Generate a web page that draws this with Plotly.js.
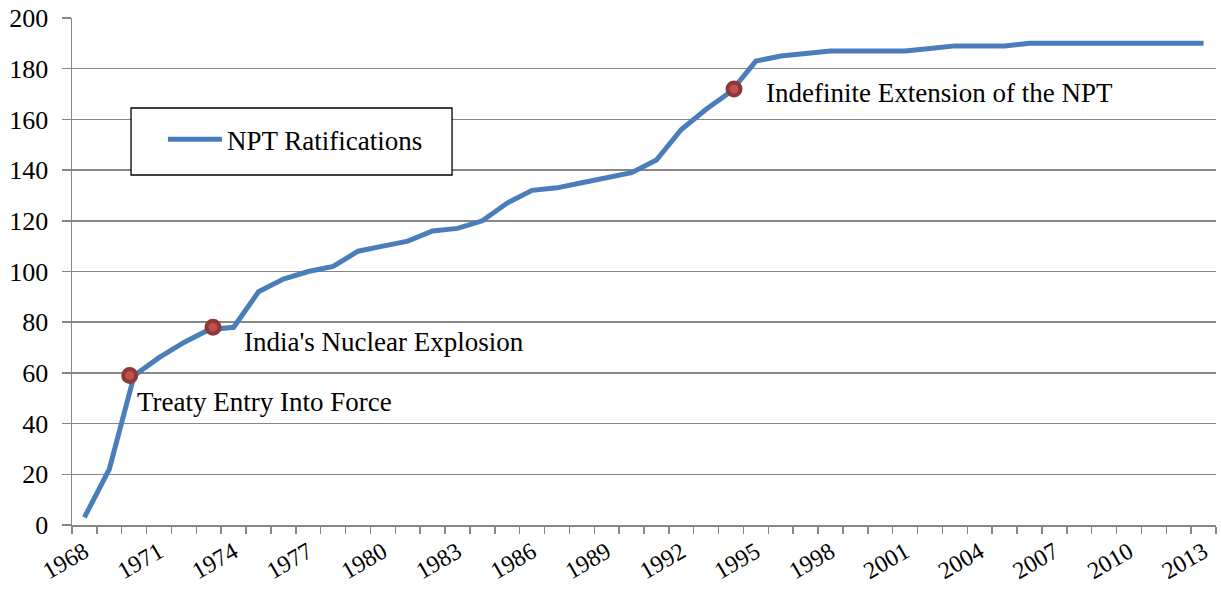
<!DOCTYPE html>
<html>
<head>
<meta charset="utf-8">
<script src="https://cdn.plot.ly/plotly-3.0.1.min.js"></script>
<style>html,body{margin:0;padding:0;background:#fff;}#chart{width:1221px;height:589px;}</style>
</head>
<body>
<div id="chart"></div>
<script>
// ---- data ----
const years = [1968,1969,1970,1971,1972,1973,1974,1975,1976,1977,1978,1979,1980,1981,1982,1983,1984,1985,1986,1987,1988,1989,1990,1991,1992,1993,1994,1995,1996,1997,1998,1999,2000,2001,2002,2003,2004,2005,2006,2007,2008,2009,2010,2011,2012,2013];
const ratifications = [3,22,59,66,72,77,78,92,97,100,102,108,110,112,116,117,120,127,132,133,135,137,139,144,156,164,171,183,185,186,187,187,187,187,188,189,189,189,190,190,190,190,190,190,190,190];
const eventYears = [1969.82, 1973.17, 1994.12];
const eventValues = [59, 78, 172];
const eventLabels = ["Treaty Entry Into Force", "India's Nuclear Explosion", "Indefinite Extension of the NPT"];
const labelShiftX = [5, 29, 30];
const labelShiftY = [-27, -15, -4];
const tickYears = [1968,1971,1974,1977,1980,1983,1986,1989,1992,1995,1998,2001,2004,2007,2010,2013];

const FONT = "Liberation Serif, Times New Roman, serif";
const GRAY = "#878787";

const traces = [
  {
    type: 'scatter', mode: 'lines', name: 'NPT Ratifications',
    x: years, y: ratifications,
    line: {color: '#4A7EBB', width: 5}
  },
  {
    type: 'scatter', mode: 'markers', showlegend: false,
    x: eventYears, y: eventValues,
    marker: {size: 13, color: '#C0504D', line: {color: '#8C3836', width: 4}}
  }
];

const annotations = eventLabels.map((t, i) => ({
  x: eventYears[i], y: eventValues[i], xref: 'x', yref: 'y',
  text: t, showarrow: false, xanchor: 'left', yanchor: 'middle',
  xshift: labelShiftX[i], yshift: labelShiftY[i],
  font: {family: FONT, size: 27, color: '#000'}
}));

const layout = {
  width: 1221, height: 589,
  margin: {l: 72, r: 5, t: 18, b: 64},
  paper_bgcolor: '#fff', plot_bgcolor: '#fff',
  font: {family: FONT, size: 26, color: '#000'},
  showlegend: true,
  legend: {
    x: 0.0795, y: 0.76, xanchor: 'left', yanchor: 'middle',
    bgcolor: 'rgba(0,0,0,0)', borderwidth: 0,
    font: {family: FONT, size: 27, color: '#000'},
    itemwidth: 54
  },
  shapes: [{
    type: 'rect', xref: 'paper', yref: 'paper',
    x0: 0.0516, x1: 0.3322, y0: 0.6903, y1: 0.8225,
    fillcolor: '#fff', line: {color: '#000', width: 1.3}, layer: 'above'
  }],
  xaxis: {
    type: 'linear', range: [1967.5, 2013.5],
    tickmode: 'array', tickvals: tickYears, ticktext: tickYears.map(String),
    tickangle: -30, ticks: '', showgrid: false, zeroline: false,
    showline: true, linecolor: GRAY, linewidth: 1.5,
    ticklabelstandoff: 2, ticklabeloverflow: 'allow',
    tickfont: {family: FONT, size: 24, color: '#000'},
    minor: {tick0: 1967.5, dtick: 1, ticks: 'outside', ticklen: 7, tickcolor: GRAY, tickwidth: 1.5, showgrid: false}
  },
  yaxis: {
    range: [0, 200], dtick: 20, tick0: 0,
    showgrid: true, gridcolor: GRAY, gridwidth: 1.5,
    zeroline: false, showline: true, linecolor: GRAY, linewidth: 1.5,
    ticks: 'outside', ticklen: 9, tickcolor: GRAY, tickwidth: 1.5,
    ticklabelstandoff: 8,
    tickfont: {family: FONT, size: 26, color: '#000'}
  },
  annotations: annotations
};

Plotly.newPlot('chart', traces, layout, {displayModeBar: false, staticPlot: true});
</script>
</body>
</html>
